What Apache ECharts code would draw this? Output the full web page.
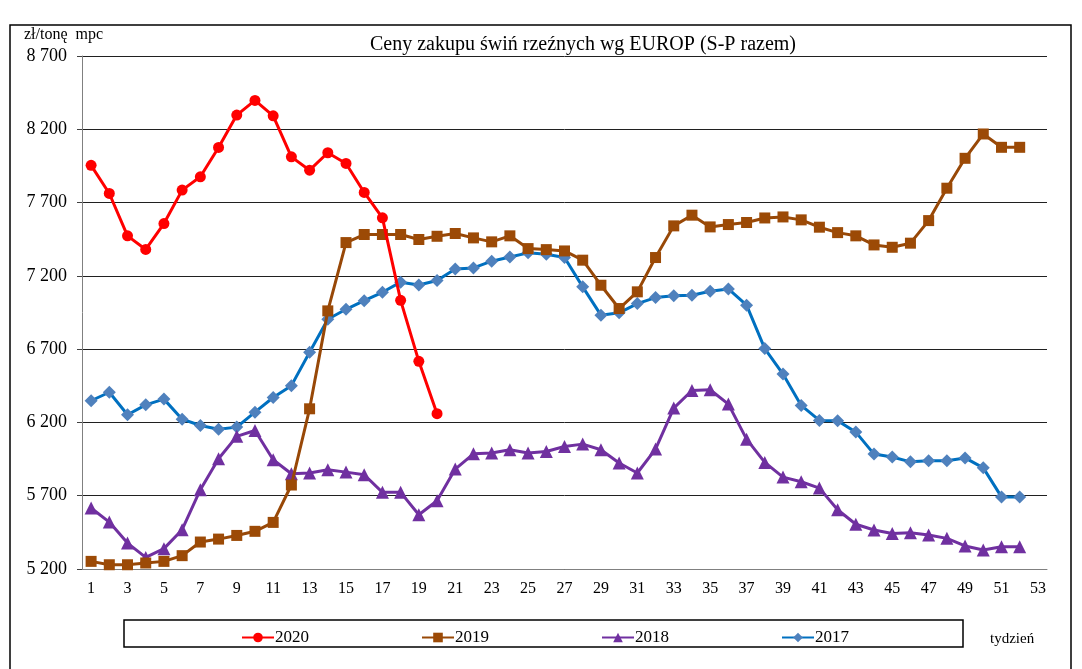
<!DOCTYPE html>
<html>
<head>
<meta charset="utf-8">
<script src="https://cdn.jsdelivr.net/npm/echarts@6/dist/echarts.min.js"></script>
<style>
    html, body {margin: 0; padding: 0; background: #fff;}
    #chart {width: 1082px; height: 669px;}
</style>
</head>
<body>
<div id="chart"></div>
<script>
    var weeks = ['1', '2', '3', '4', '5', '6', '7', '8', '9', '10', '11', '12', '13', '14', '15', '16', '17', '18',
        '19', '20', '21', '22', '23', '24', '25', '26', '27', '28', '29', '30', '31', '32', '33', '34', '35', '36',
        '37', '38', '39', '40', '41', '42', '43', '44', '45', '46', '47', '48', '49', '50', '51', '52', '53'];

    var y2020 = [7954, 7762, 7473, 7380, 7557, 7785, 7876, 8076, 8297, 8397, 8292, 8012, 7921, 8040, 7967, 7769,
        7596, 7033, 6617, 6260];

    var y2019 = [5252, 5229, 5229, 5241, 5252, 5291, 5384, 5404, 5429, 5457, 5518, 5773, 6293, 6961, 7427, 7482,
        7482, 7482, 7448, 7470, 7489, 7459, 7432, 7473, 7386, 7379, 7370, 7307, 7136, 6977, 7091, 7325, 7541, 7614,
        7534, 7550, 7564, 7595, 7602, 7582, 7532, 7495, 7473, 7411, 7395, 7423, 7577, 7798, 8002, 8168, 8077, 8077];

    var y2018 = [5616, 5520, 5377, 5279, 5339, 5468, 5741, 5952, 6105, 6145, 5945, 5850, 5855, 5877, 5861, 5843,
        5723, 5723, 5570, 5666, 5882, 5986, 5991, 6014, 5991, 6002, 6036, 6052, 6014, 5923, 5855, 6018, 6298, 6418,
        6423, 6325, 6086, 5927, 5827, 5795, 5752, 5604, 5505, 5466, 5442, 5448, 5432, 5409, 5357, 5330, 5352, 5352];

    var y2017 = [6348, 6406, 6252, 6320, 6359, 6222, 6179, 6154, 6168, 6270, 6370, 6451, 6679, 6904, 6972, 7031,
        7088, 7157, 7138, 7168, 7247, 7254, 7300, 7329, 7357, 7348, 7325, 7125, 6932, 6948, 7011, 7052, 7064, 7068,
        7095, 7111, 7000, 6704, 6530, 6316, 6214, 6211, 6134, 5984, 5964, 5931, 5938, 5938, 5958, 5890, 5692, 5692];

    var font = '"Liberation Serif", "Times New Roman", serif';
    var chart = echarts.init(document.getElementById('chart'), null, {renderer: 'canvas'});

    var option = {
        backgroundColor: '#fff',
        animation: false,
        textStyle: {fontFamily: font, color: '#000'},
        title: {
            text: 'Ceny zakupu świń rzeźnych wg EUROP (S-P razem)',
            left: 578,
            textAlign: 'center',
            top: 30,
            textStyle: {fontFamily: font, fontSize: 20, fontWeight: 'normal', color: '#000'}
        },
        legend: {
            data: ['2020', '2019', '2018', '2017'],
            left: 236,
            top: 624,
            itemWidth: 32,
            itemHeight: 12,
            itemGap: 112,
            textStyle: {fontFamily: font, fontSize: 17, color: '#000', padding: [0, 0, 0, -4]}
        },
        grid: {left: 82, right: 35, top: 56, bottom: 100},
        xAxis: {
            type: 'category',
            data: weeks,
            boundaryGap: true,
            axisLine: {lineStyle: {color: '#808080', width: 1}},
            axisTick: {interval: 0, length: 5, lineStyle: {color: '#404040'}},
            axisLabel: {interval: 1, fontFamily: font, fontSize: 16, color: '#000', margin: 12}
        },
        yAxis: {
            type: 'value',
            min: 5200,
            max: 8700,
            interval: 500,
            axisLine: {show: true, lineStyle: {color: '#808080', width: 1}},
            axisTick: {show: true, inside: false, length: 5, lineStyle: {color: '#404040'}},
            splitLine: {lineStyle: {color: '#202020', width: 1}},
            axisLabel: {
                fontFamily: font, fontSize: 18, color: '#000', margin: 15,
                formatter: function (v) {
                    return String(v).replace(/\B(?=(\d{3})+(?!\d))/g, ' ');
                }
            }
        },
        graphic: [
            {
                type: 'rect', shape: {x: 10, y: 25, width: 1061, height: 700}, z: -1,
                style: {fill: 'none', stroke: '#000', lineWidth: 1.5}
            },
            {
                type: 'rect', shape: {x: 124, y: 620, width: 839, height: 27},
                style: {fill: 'none', stroke: '#000', lineWidth: 1.5}
            },
            {
                type: 'text', left: 24, top: 27,
                style: {text: 'zł/tonę  mpc', font: '16px ' + font, fill: '#000'}
            },
            {
                type: 'text', left: 990, top: 632,
                style: {text: 'tydzień', font: '15px ' + font, fill: '#000'}
            }
        ],
        series: [
            {
                name: '2017', type: 'line', data: y2017, z: 2,
                symbol: 'diamond', symbolSize: 13, showAllSymbol: true,
                lineStyle: {color: '#0070C0', width: 3},
                itemStyle: {color: '#4F81BD'}
            },
            {
                name: '2018', type: 'line', data: y2018, z: 3,
                symbol: 'triangle', symbolSize: 13, showAllSymbol: true,
                lineStyle: {color: '#7030A0', width: 3},
                itemStyle: {color: '#7030A0'}
            },
            {
                name: '2019', type: 'line', data: y2019, z: 4,
                symbol: 'rect', symbolSize: 11, showAllSymbol: true,
                lineStyle: {color: '#984807', width: 3},
                itemStyle: {color: '#9C4A06'}
            },
            {
                name: '2020', type: 'line', data: y2020, z: 5,
                symbol: 'circle', symbolSize: 11, showAllSymbol: true,
                lineStyle: {color: '#FF0000', width: 3},
                itemStyle: {color: '#FF0000'}
            }
        ]
    };
    chart.setOption(option);
</script>
</body>
</html>
